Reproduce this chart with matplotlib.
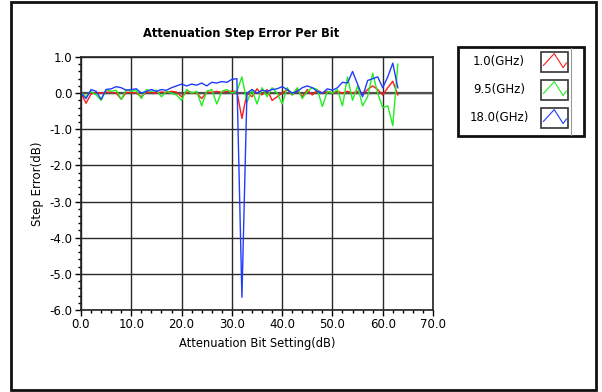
import numpy as np
import matplotlib
matplotlib.use('Agg')
import matplotlib.pyplot as plt
from matplotlib.patches import Rectangle
from matplotlib.lines import Line2D
from matplotlib.ticker import MultipleLocator, FormatStrFormatter

# attenuation bit setting (dB)
bit_setting = np.arange(64)

# step error (dB) per frequency
err_1g0 = [0.0, -0.28, -0.02, 0.02, 0.0, 0.03, 0.02, 0.0, -0.17, 0.02,
           0.02, 0.0, -0.1, 0.03, 0.02, 0.0, 0.03, 0.02, 0.05, 0.03,
           -0.1, 0.03, 0.02, 0.0, -0.15, 0.03, 0.02, 0.05, 0.02, 0.05,
           0.05, 0.05, -0.7, 0.0, -0.1, 0.12, -0.05, 0.1, -0.2, -0.1,
           0.0, 0.1, -0.05, 0.1, -0.1, 0.1, -0.05, 0.08, 0.0, 0.05,
           0.0, 0.05, 0.0, 0.05, 0.0, 0.05, -0.05, 0.1, 0.2, 0.1,
           -0.05, 0.15, 0.33, -0.05]
err_9g5 = [0.0, -0.1, 0.05, -0.05, -0.2, 0.1, 0.05, 0.08, -0.17, 0.1,
           0.05, 0.08, -0.15, 0.1, 0.05, 0.08, -0.1, 0.05, 0.0, -0.05,
           -0.2, 0.1, 0.0, 0.05, -0.35, 0.05, 0.1, -0.3, 0.05, 0.1,
           0.0, 0.05, 0.45, -0.25, 0.1, -0.3, 0.15, -0.1, 0.15, 0.0,
           -0.3, 0.15, -0.05, 0.15, -0.15, 0.05, 0.15, 0.1, -0.37, 0.05,
           0.0, 0.1, -0.35, 0.45, -0.2, 0.2, -0.35, -0.1, 0.55, 0.0,
           -0.4, -0.35, -0.9, 0.8]
err_18g0 = [0.0, -0.15, 0.1, 0.05, -0.17, 0.1, 0.12, 0.18, 0.15, 0.08,
            0.1, 0.12, 0.0, 0.05, 0.1, 0.05, 0.1, 0.08, 0.15, 0.2,
            0.25, 0.2, 0.25, 0.22, 0.28, 0.2, 0.3, 0.28, 0.32, 0.3,
            0.38, 0.4, -5.65, 0.0, 0.1, 0.0, 0.08, 0.05, 0.1, 0.12,
            0.18, 0.1, 0.0, 0.05, 0.15, 0.2, 0.15, 0.05, 0.0, 0.12,
            0.08, 0.15, 0.3, 0.28, 0.6, 0.25, -0.1, 0.35, 0.4, 0.45,
            0.15, 0.45, 0.83, 0.15]

labels = ['1.0(GHz)', '9.5(GHz)', '18.0(GHz)']
colors = ['#ff1a1a', '#22ee22', '#1f3cff']
series = [err_1g0, err_9g5, err_18g0]

W, H = 602, 392

def fx(px):
    return px / W

def fy(py):
    return 1 - py / H

fig = plt.figure(figsize=(W / 100, H / 100), dpi=100)
ax = fig.add_axes([fx(81), fy(310), (433 - 81) / W, (310 - 57) / H])

for ys, c in zip(series, colors):
    ax.plot(bit_setting, ys, color=c, lw=1.0)

ax.set_xlim(0, 70)
ax.set_ylim(-6, 1)
ax.xaxis.set_major_locator(MultipleLocator(10))
ax.xaxis.set_minor_locator(MultipleLocator(2))
ax.yaxis.set_major_locator(MultipleLocator(1))
ax.yaxis.set_minor_locator(MultipleLocator(0.2))
ax.xaxis.set_major_formatter(FormatStrFormatter('%.1f'))
ax.yaxis.set_major_formatter(FormatStrFormatter('%.1f'))
ax.grid(True, which='major', color='#2a2a2a', lw=1.0)
# the zero line is drawn a bit heavier
ax.axhline(0, color='#505050', lw=1.6, zorder=1)
ax.set_axisbelow(True)
ax.tick_params(which='major', direction='out', length=4, width=1, labelsize=8.5, pad=2)
ax.tick_params(which='minor', direction='out', length=2.5, width=1)
for s in ax.spines.values():
    s.set_color('#222222')
    s.set_linewidth(1.2)

ax.set_xlabel('Attenuation Bit Setting(dB)', fontsize=8.3, labelpad=4)
ax.set_ylabel('Step Error(dB)', fontsize=8.5, labelpad=4)
fig.text(fx(241), fy(34), 'Attenuation Step Error Per Bit', fontsize=8.3,
         fontweight='bold', ha='center', va='center')

# outer frame
fig.patches.append(Rectangle((fx(11), fy(390)), fx(596) - fx(11), fy(2) - fy(390),
                             transform=fig.transFigure, fill=False, ec='#111111', lw=2))

# legend box, drawn by hand
fig.patches.append(Rectangle((fx(458), fy(136)), fx(584) - fx(458), fy(47) - fy(136),
                             transform=fig.transFigure, fill=False, ec='#111111', lw=2))
fig.lines.append(Line2D([fx(571), fx(571)], [fy(48), fy(135)],
                        transform=fig.transFigure, color='#999999', lw=0.8))
zig_x = [0.09, 0.49, 0.82, 0.94]
zig_y = [0.67, 0.08, 0.78, 0.55]
for i, (lab, c) in enumerate(zip(labels, colors)):
    yc = 62 + 28 * i
    fig.text(fx(499), fy(yc), lab, fontsize=8.5, ha='center', va='center')
    x0, x1, y0, y1 = 541, 568, yc - 10, yc + 10
    fig.patches.append(Rectangle((fx(x0), fy(y1)), fx(x1) - fx(x0), fy(y0) - fy(y1),
                                 transform=fig.transFigure, fc='white', ec='#333333', lw=1.2))
    fig.lines.append(Line2D([fx(x0 + (x1 - x0) * a) for a in zig_x],
                            [fy(y0 + (y1 - y0) * b) for b in zig_y],
                            transform=fig.transFigure, color=c, lw=0.8))

fig.savefig('out.png', dpi=100)
